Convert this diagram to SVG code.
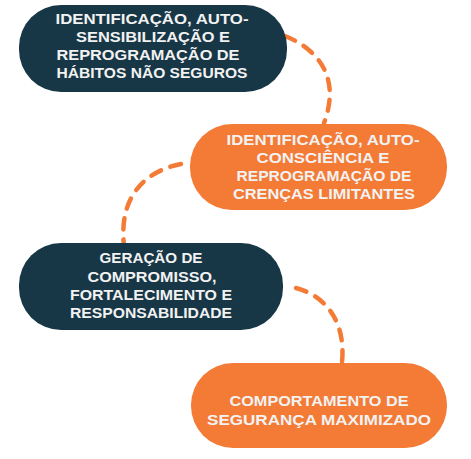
<svg xmlns="http://www.w3.org/2000/svg" width="471" height="459" viewBox="0 0 471 459">
<style>
.dark{fill:#183746}
.orange{fill:#f37b36}
.t{font-family:"Liberation Sans",Arial,sans-serif;font-weight:bold;font-size:14px;fill:#f2f2f2;text-anchor:middle}
.c{fill:none;stroke:#f37b36;stroke-width:4.5;stroke-linecap:round;stroke-dasharray:11 10}
</style>
<rect width="471" height="459" fill="#ffffff"/>
<g id="connectors">
<path class="c" d="M285,36 C315,48 342,75 324,123"/>
<path class="c" d="M181,164 C150,170 118,192 124,246"/>
<path class="c" d="M296,288 C326,296 346,322 342,362"/>
</g>
<g id="node1">
<rect class="dark" x="19" y="5" width="268" height="87" rx="42" ry="42"/>
<text class="t" x="152" y="24" textLength="193" lengthAdjust="spacingAndGlyphs">IDENTIFICAÇÃO, AUTO-</text>
<text class="t" x="153" y="42" textLength="154" lengthAdjust="spacingAndGlyphs">SENSIBILIZAÇÃO E</text>
<text class="t" x="148" y="60" textLength="183" lengthAdjust="spacingAndGlyphs">REPROGRAMAÇÃO DE</text>
<text class="t" x="152" y="78" textLength="191" lengthAdjust="spacingAndGlyphs">HÁBITOS NÃO SEGUROS</text>
</g>
<g id="node2">
<rect class="orange" x="190" y="124" width="257" height="86" rx="42" ry="42"/>
<text class="t" x="323" y="145" textLength="193" lengthAdjust="spacingAndGlyphs">IDENTIFICAÇÃO, AUTO-</text>
<text class="t" x="323" y="163" textLength="133" lengthAdjust="spacingAndGlyphs">CONSCIÊNCIA E</text>
<text class="t" x="324" y="181" textLength="175" lengthAdjust="spacingAndGlyphs">REPROGRAMAÇÃO DE</text>
<text class="t" x="324" y="199" textLength="182" lengthAdjust="spacingAndGlyphs">CRENÇAS LIMITANTES</text>
</g>
<g id="node3">
<rect class="dark" x="19" y="243" width="264" height="87" rx="42" ry="42"/>
<text class="t" x="151" y="263" textLength="103" lengthAdjust="spacingAndGlyphs">GERAÇÃO DE</text>
<text class="t" x="152" y="282" textLength="129" lengthAdjust="spacingAndGlyphs">COMPROMISSO,</text>
<text class="t" x="151" y="300" textLength="162" lengthAdjust="spacingAndGlyphs">FORTALECIMENTO E</text>
<text class="t" x="151" y="318" textLength="162" lengthAdjust="spacingAndGlyphs">RESPONSABILIDADE</text>
</g>
<g id="node4">
<rect class="orange" x="191" y="363" width="256" height="85" rx="42" ry="42"/>
<text class="t" x="319" y="406" textLength="179" lengthAdjust="spacingAndGlyphs">COMPORTAMENTO DE</text>
<text class="t" x="319" y="425" textLength="224" lengthAdjust="spacingAndGlyphs">SEGURANÇA MAXIMIZADO</text>
</g>
</svg>
